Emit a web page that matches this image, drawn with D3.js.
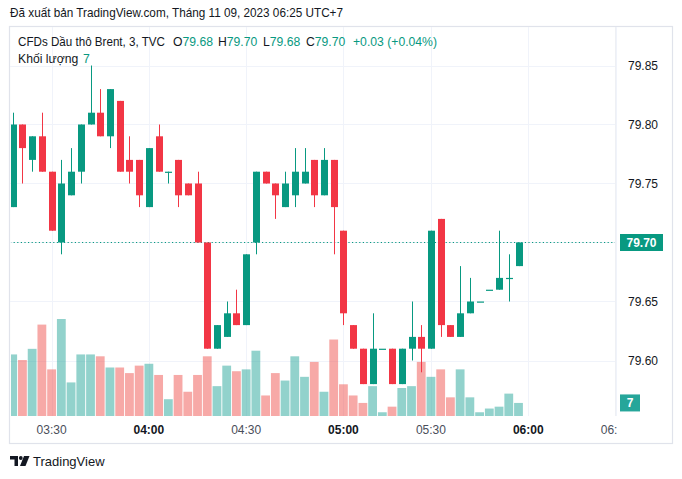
<!DOCTYPE html>
<html><head><meta charset="utf-8">
<script src="https://cdn.jsdelivr.net/npm/d3@7"></script>
<style>
html,body{margin:0;padding:0;background:#fff;}
svg{display:block;font-family:"Liberation Sans",Arial,sans-serif;}
</style></head>
<body>
<svg id="chart" width="682" height="479"></svg>
<script>
// ---- data (3-minute bars, TVC Brent CFD) ----
const opens  = [79.73,79.80,79.77,79.79,79.76,79.70,79.74,79.76,79.80,79.81,79.79,79.82,79.77,79.77,79.73,79.79,79.76,79.77,79.75,79.75,79.70,79.61,79.62,79.64,79.63,79.70,79.76,79.75,79.73,79.74,79.75,79.77,79.74,79.77,79.71,79.63,79.61,79.58,79.61,79.61,79.58,79.61,79.62,79.61,79.72,79.63,79.62,79.64,79.65,79.66,79.66,79.67,79.68];
const highs  = [79.81,79.80,79.79,79.81,79.76,79.77,79.78,79.80,79.85,79.83,79.83,79.82,79.79,79.77,79.78,79.80,79.76,79.77,79.75,79.76,79.70,79.63,79.65,79.66,79.69,79.76,79.76,79.75,79.76,79.78,79.78,79.77,79.78,79.77,79.71,79.63,79.61,79.64,79.61,79.61,79.61,79.65,79.63,79.71,79.72,79.63,79.68,79.67,79.65,79.66,79.71,79.69,79.70];
const lows   = [79.73,79.75,79.76,79.76,79.71,79.69,79.74,79.75,79.80,79.79,79.78,79.76,79.75,79.73,79.73,79.76,79.75,79.73,79.74,79.70,79.61,79.61,79.62,79.63,79.63,79.69,79.75,79.72,79.73,79.73,79.75,79.73,79.74,79.69,79.63,79.61,79.58,79.58,79.61,79.58,79.58,79.60,79.59,79.61,79.62,79.62,79.62,79.64,79.65,79.66,79.66,79.65,79.68];
const closes = [79.80,79.78,79.79,79.76,79.71,79.75,79.76,79.80,79.81,79.79,79.83,79.76,79.76,79.74,79.78,79.76,79.76,79.74,79.74,79.70,79.61,79.63,79.64,79.63,79.69,79.76,79.75,79.74,79.75,79.76,79.76,79.74,79.77,79.73,79.64,79.61,79.58,79.61,79.61,79.58,79.61,79.62,79.61,79.71,79.63,79.62,79.64,79.65,79.65,79.66,79.67,79.67,79.70];
const volumes = [33,30,36,49,25,52,18,33,33,32,26,26,23,27,28,22,9,22,13,22,32,16,27,24,25,35,11,23,19,32,21,29,13,41,17,11,7,16,2,5,15,16,29,21,25,10,25,10,2,4,5,12,7];
const timeLabels = ["03:30","04:00","04:30","05:00","05:30","06:00","06:30"];
const timeLabelIdx = [4,14,24,34,43,53,62];
const timeLabelBold = [false,true,false,true,false,true,false];
const priceTicks = [79.60,79.65,79.70,79.75,79.80,79.85];
const lastPrice = 79.70;
const lastVolume = 7;

const UP = "#089981", DOWN = "#F23645";
const VUP = "rgba(38,166,154,0.5)", VDOWN = "rgba(239,83,80,0.5)";
const TEXT = "#131722";

const svg = d3.select("#chart");
const bars = opens.map((o,i)=>({i,o,h:highs[i],l:lows[i],c:closes[i],v:volumes[i]}));

// plot area
const L = 10, R = 615, T = 27, B = 416;

const x = d3.scaleLinear().domain([0,52]).range([12.7,518.5]);
const y = d3.scaleLinear().domain([79.60,79.85]).range([360.5,65.5]);
const yv = d3.scaleLinear().domain([0,52]).range([416,319]);

// header
svg.append("text").attr("x",10).attr("y",17).attr("font-size",12.2).attr("fill",TEXT)
  .attr("textLength",333).attr("lengthAdjust","spacingAndGlyphs")
  .text("Đã xuất bản TradingView.com, Tháng 11 09, 2023 06:25 UTC+7");

// frame
svg.append("rect").attr("x",9.5).attr("y",26.5).attr("width",663).attr("height",417)
  .attr("fill","#fff").attr("stroke","#e0e3eb").attr("stroke-width",1.2);

svg.append("clipPath").attr("id","plotclip").append("rect")
  .attr("x",L+1).attr("y",T).attr("width",R-L-1).attr("height",B-T);

// grid
const grid = svg.append("g");
grid.selectAll("line.h").data(priceTicks).join("line")
  .attr("x1",L).attr("x2",R).attr("y1",d=>Math.round(y(d))+0.5).attr("y2",d=>Math.round(y(d))+0.5)
  .attr("stroke","#f0f3fa").attr("stroke-width",1);
grid.selectAll("line.v").data(timeLabelIdx).join("line")
  .attr("x1",d=>Math.round(x(d))+0.5).attr("x2",d=>Math.round(x(d))+0.5)
  .attr("y1",T).attr("y2",B).attr("stroke","#f0f3fa").attr("stroke-width",1);
// price axis separator
svg.append("line").attr("x1",R+0.5).attr("x2",R+0.5).attr("y1",T).attr("y2",B)
  .attr("stroke","#eef0f4");

const plot = svg.append("g").attr("clip-path","url(#plotclip)");

// volume bars
const vw = 8.8;
plot.selectAll("rect.vol").data(bars).join("rect")
  .attr("x",d=>x(d.i)-vw/2).attr("width",vw)
  .attr("y",d=>yv(d.v)).attr("height",d=>yv(0)-yv(d.v))
  .attr("fill",d=>d.c>=d.o?VUP:VDOWN);

// last price dotted line
plot.append("line").attr("x1",L).attr("x2",R).attr("y1",Math.round(y(lastPrice))+0.5).attr("y2",Math.round(y(lastPrice))+0.5)
  .attr("stroke",UP).attr("stroke-width",1.2).attr("stroke-dasharray","1.2,2.4");

// candles
const bw = 7;
const cg = plot.selectAll("g.c").data(bars).join("g")
  .attr("fill",d=>d.c>=d.o?UP:DOWN).attr("stroke",d=>d.c>=d.o?UP:DOWN);
cg.append("line")
  .attr("x1",d=>Math.round(x(d.i))+0.5).attr("x2",d=>Math.round(x(d.i))+0.5)
  .attr("y1",d=>y(d.h)).attr("y2",d=>y(d.l)).attr("stroke-width",1);
cg.append("rect")
  .attr("x",d=>Math.round(x(d.i))+0.5-bw/2).attr("width",bw)
  .attr("y",d=>y(Math.max(d.o,d.c)))
  .attr("height",d=>Math.max(1.2,Math.abs(y(d.o)-y(d.c))))
  .attr("stroke","none");

// price axis labels
svg.selectAll("text.p").data(priceTicks.filter(d=>d!==lastPrice)).join("text")
  .attr("x",628).attr("y",d=>y(d)+4.3).attr("font-size",12).attr("fill",TEXT)
  .text(d=>d.toFixed(2));
// last price label
svg.append("rect").attr("x",620).attr("y",y(lastPrice)-8.5).attr("width",43).attr("height",17).attr("fill",UP);
svg.append("text").attr("x",641.5).attr("y",y(lastPrice)+4.3).attr("text-anchor","middle")
  .attr("font-size",12).attr("font-weight","bold").attr("fill","#fff").text(lastPrice.toFixed(2));
// volume label
svg.append("rect").attr("x",620).attr("y",yv(lastVolume)-8.5).attr("width",20).attr("height",17).attr("fill","#26a69a");
svg.append("text").attr("x",630).attr("y",yv(lastVolume)+4.3).attr("text-anchor","middle")
  .attr("font-size",12).attr("font-weight","bold").attr("fill","#fff").text(lastVolume);

// time axis labels
svg.append("clipPath").attr("id","tclip").append("rect")
  .attr("x",L).attr("y",B).attr("width",R-L+2).attr("height",27);
svg.append("g").attr("clip-path","url(#tclip)").selectAll("text.t").data(timeLabels).join("text")
  .attr("x",(d,k)=>x(timeLabelIdx[k])).attr("y",434).attr("text-anchor","middle")
  .attr("font-size",12).attr("fill",(d,k)=>timeLabelBold[k]?TEXT:"#4a4e5a")
  .attr("font-weight",(d,k)=>timeLabelBold[k]?"bold":"normal")
  .text(d=>d);

// legend
const lg = svg.append("text").attr("y",46).attr("font-size",12.2).attr("fill",TEXT);
lg.append("tspan").attr("x",18).attr("textLength",147).attr("lengthAdjust","spacingAndGlyphs")
  .text("CFDs Dầu thô Brent, 3, TVC");
const ohlc = [["O",opens[52]],["H",highs[52]],["L",lows[52]],["C",closes[52]]];
const ox = [173,218,263,306];
ohlc.forEach((p,k)=>{
  lg.append("tspan").attr("x",ox[k]).text(p[0]);
  lg.append("tspan").attr("fill",UP).text(p[1].toFixed(2));
});
lg.append("tspan").attr("x",353).attr("fill",UP).text("+0.03 (+0.04%)");
const lg2 = svg.append("text").attr("y",63).attr("font-size",12.2).attr("fill",TEXT);
lg2.append("tspan").attr("x",18).text("Khối lượng");
lg2.append("tspan").attr("x",83).attr("fill",UP).text(lastVolume);

// footer logo
const logo = svg.append("g").attr("fill","#131722");
logo.append("path").attr("d","M10 456 H18 V466 H14.5 V459.5 H10 Z");
logo.append("circle").attr("cx",20.8).attr("cy",458).attr("r",1.9);
logo.append("path").attr("d","M24 456 H29.5 L25.5 466 H20 Z");
svg.append("text").attr("x",33).attr("y",466).attr("font-size",13).attr("fill","#131722").text("TradingView");
</script>
</body></html>
